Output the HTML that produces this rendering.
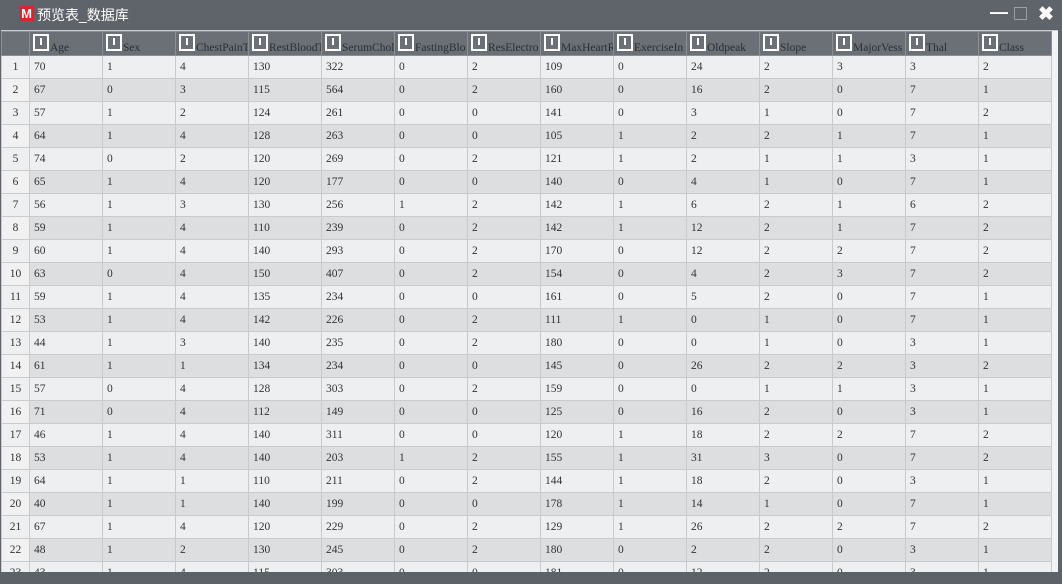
<!DOCTYPE html>
<html><head><meta charset="utf-8">
<style>
html,body{margin:0;padding:0;width:1062px;height:584px;overflow:hidden;background:#5d6168;font-family:"Liberation Serif","Noto Sans CJK SC",serif;}
#win{position:absolute;left:0;top:0;width:1062px;height:584px;background:#5f646b;}
#title{position:absolute;left:0;top:0;width:1062px;height:30px;background:#5f646b;}
#logo{position:absolute;left:19px;top:6px;width:15px;height:15px;background:#e0222a;color:#fff;font:bold 13px "Liberation Sans",sans-serif;text-align:center;line-height:15px;}
#ttext{position:absolute;left:37px;top:5px;color:#fff;font-size:14px;font-family:"Liberation Sans","Noto Sans CJK SC",sans-serif;}
.ctl{position:absolute;top:4px;color:#fff;font:bold 18px "Liberation Sans",sans-serif;}
#grid{position:absolute;left:1px;top:30px;width:1057px;height:542px;background:#f3f3f4;overflow:hidden;border-top:1px solid #c9ccd0;}
table{border-collapse:collapse;table-layout:fixed;width:1050px;font-size:11.5px;color:#333;}
td,th{border:1px solid #c8cacc;height:22px;padding:0 0 0 4px;white-space:nowrap;overflow:hidden;text-align:left;font-weight:normal;}
th{background:#6b7077;color:#2b2e32;height:22px;border-color:#8a8f95;vertical-align:bottom;padding:0 0 1px 3px;}
th .ic{display:inline-block;width:16px;height:17px;border:2px solid #fff;box-sizing:border-box;vertical-align:0px;margin-right:1px;position:relative;}
th .ic:after{content:"";position:absolute;left:5px;top:2px;width:2px;height:7px;background:#fff;}
td.rn{background:#f1f1f2;text-align:center;padding:0;}
tr.odd td{background:#eeeff0;}
tr.even td{background:#dcdedf;}
tr.even td.rn{background:#f1f1f2;}
#bottom{position:absolute;left:0;top:572px;width:1062px;height:12px;background:#5d6168;}
</style></head><body>
<div id="win">
<div id="title">
<div id="logo">M</div>
<div id="ttext">预览表_数据库</div>
<div class="ctl" style="left:990px;top:2px">—</div>
<div class="ctl" style="left:1014px;top:7px;width:11px;height:11px;border:1px solid #9aa0a6;font-size:0"></div>
<div class="ctl" style="left:1038px;top:3px;font-size:19px">✖</div>
</div>
<div id="grid">
<table id="tbl">
<colgroup><col style="width:28px"></colgroup>
<thead><tr id="hdr"><th style="padding:0"></th></tr></thead>
<tbody id="body"></tbody>
</table>
</div>
<div id="bottom"></div>
</div>
<script>
const headers=["Age","Sex","ChestPainT","RestBloodT","SerumChol","FastingBlo","ResElectro","MaxHeartR","ExerciseIn","Oldpeak","Slope","MajorVess","Thal","Class"];
const rows=[
[70,1,4,130,322,0,2,109,0,24,2,3,3,2],
[67,0,3,115,564,0,2,160,0,16,2,0,7,1],
[57,1,2,124,261,0,0,141,0,3,1,0,7,2],
[64,1,4,128,263,0,0,105,1,2,2,1,7,1],
[74,0,2,120,269,0,2,121,1,2,1,1,3,1],
[65,1,4,120,177,0,0,140,0,4,1,0,7,1],
[56,1,3,130,256,1,2,142,1,6,2,1,6,2],
[59,1,4,110,239,0,2,142,1,12,2,1,7,2],
[60,1,4,140,293,0,2,170,0,12,2,2,7,2],
[63,0,4,150,407,0,2,154,0,4,2,3,7,2],
[59,1,4,135,234,0,0,161,0,5,2,0,7,1],
[53,1,4,142,226,0,2,111,1,0,1,0,7,1],
[44,1,3,140,235,0,2,180,0,0,1,0,3,1],
[61,1,1,134,234,0,0,145,0,26,2,2,3,2],
[57,0,4,128,303,0,2,159,0,0,1,1,3,1],
[71,0,4,112,149,0,0,125,0,16,2,0,3,1],
[46,1,4,140,311,0,0,120,1,18,2,2,7,2],
[53,1,4,140,203,1,2,155,1,31,3,0,7,2],
[64,1,1,110,211,0,2,144,1,18,2,0,3,1],
[40,1,1,140,199,0,0,178,1,14,1,0,7,1],
[67,1,4,120,229,0,2,129,1,26,2,2,7,2],
[48,1,2,130,245,0,2,180,0,2,2,0,3,1],
[43,1,4,115,303,0,0,181,0,12,2,0,3,1]
];
const colW=73;
const cg=document.querySelector('colgroup');
const hdr=document.getElementById('hdr');
headers.forEach(h=>{
 const c=document.createElement('col');c.style.width=colW+'px';cg.appendChild(c);
 const th=document.createElement('th');
 
 
 th.innerHTML='<span class="ic"></span>'+h;
 hdr.appendChild(th);
});
const body=document.getElementById('body');
rows.forEach((r,i)=>{
 const tr=document.createElement('tr');
 tr.className=i%2?'even':'odd';
 
 
 const rn=document.createElement('td');rn.className='rn';rn.textContent=i+1;
 
 
 tr.appendChild(rn);
 r.forEach(v=>{const td=document.createElement('td');td.textContent=v;
 
 
 tr.appendChild(td);});
 body.appendChild(tr);
});
</script>
</body></html>
